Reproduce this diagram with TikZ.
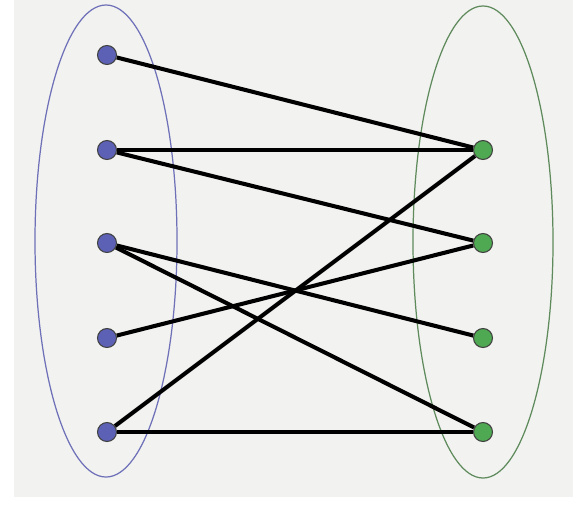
\documentclass[tikz,border=0pt]{standalone}
\usepackage{tikz}
\usetikzlibrary{positioning}
\definecolor{bgray}{HTML}{F2F2F0}
\definecolor{lblue}{HTML}{5C61B5}
\definecolor{lgreen}{HTML}{4FA852}
\definecolor{ringblue}{HTML}{6E70B8}
\definecolor{ringgreen}{HTML}{5E8A5C}
\begin{document}
\begin{tikzpicture}[
    x=0.02cm, y=-0.02cm,
    vtx/.style={circle, draw=black!75, line width=0.6pt, inner sep=0pt, minimum size=0.38cm},
    left/.style={vtx, fill=lblue},
    right/.style={vtx, fill=lgreen},
    edge/.style={line width=2.3pt, black}
]
\useasboundingbox (0,0) rectangle (573,511);
\fill[white] (0,0) rectangle (573,511);
\fill[bgray] (14,0) rectangle (573,497);

% the two sides
\draw[ringblue, line width=0.7pt] (106,241) ellipse (71 and 236);
\draw[ringgreen, line width=0.7pt] (483,242) ellipse (70 and 236);

\node[left]  (a1) at (107,55)  {};
\node[left]  (a2) at (107,150) {};
\node[left]  (a3) at (107,243) {};
\node[left]  (a4) at (107,338) {};
\node[left]  (a5) at (107,432) {};
\node[right] (b1) at (483,150) {};
\node[right] (b2) at (483,243) {};
\node[right] (b3) at (483,338) {};
\node[right] (b4) at (483,432) {};

\draw[edge] (a1) -- (b1);
\draw[edge] (a2) -- (b1);
\draw[edge] (a2) -- (b2);
\draw[edge] (a3) -- (b3);
\draw[edge] (a3) -- (b4);
\draw[edge] (a4) -- (b2);
\draw[edge] (a5) -- (b1);
\draw[edge] (a5) -- (b4);
\end{tikzpicture}
\end{document}
